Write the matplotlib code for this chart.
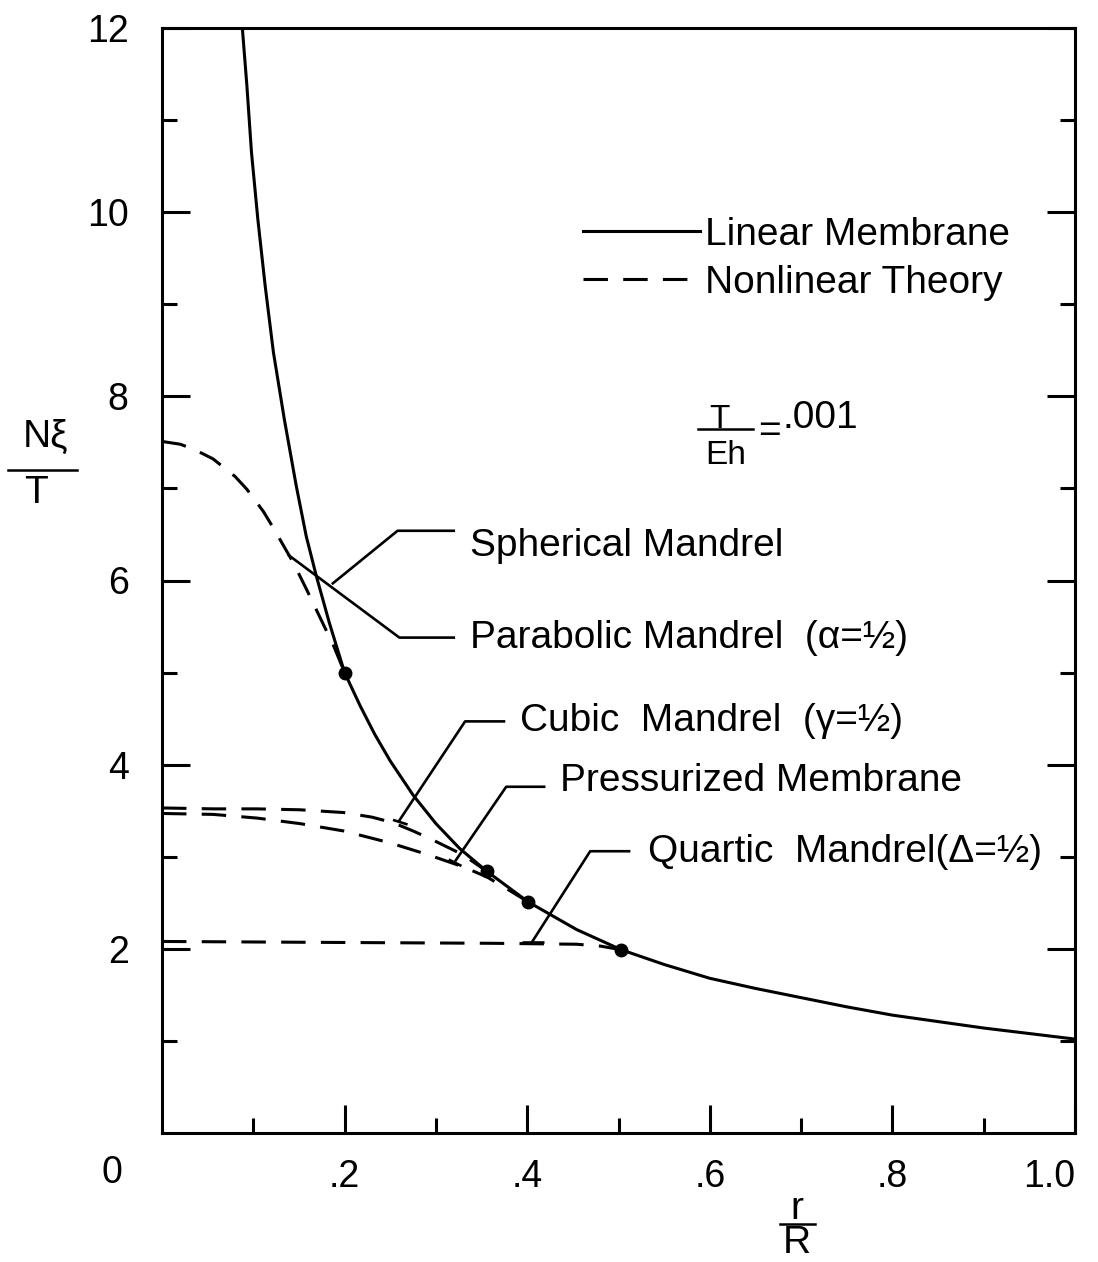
import matplotlib
matplotlib.use("Agg")
import matplotlib.pyplot as plt
from matplotlib.lines import Line2D
from matplotlib.ticker import FixedLocator

plt.rcParams["font.family"] = ["Liberation Sans", "DejaVu Sans"]

# --- values ------------------------------------------------------------------
# linear membrane (solid)
lin_x = [0.088, 0.093, 0.098, 0.105, 0.113, 0.122, 0.134, 0.147, 0.158, 0.169,
         0.183, 0.200, 0.217, 0.233, 0.250, 0.275, 0.300, 0.326, 0.356, 0.401,
         0.454, 0.503, 0.550, 0.600, 0.650, 0.700, 0.750, 0.800, 0.850, 0.900,
         0.950, 1.000]
lin_y = [12.0, 11.37, 10.65, 9.92, 9.20, 8.48, 7.75, 7.03, 6.48, 6.05,
         5.55, 5.00, 4.64, 4.33, 4.04, 3.67, 3.36, 3.09, 2.84, 2.51,
         2.21, 1.99, 1.83, 1.68, 1.57, 1.47, 1.37, 1.28, 1.21, 1.14,
         1.08, 1.02]

# nonlinear theory (dashed)
par_x = [0.0, 0.020, 0.036, 0.056, 0.080, 0.093, 0.111, 0.122, 0.133, 0.144,
         0.158, 0.173, 0.188, 0.200]
par_y = [7.51, 7.48, 7.42, 7.32, 7.13, 6.99, 6.75, 6.57, 6.38, 6.19,
         5.91, 5.60, 5.29, 5.00]

cub_x = [0.0, 0.056, 0.104, 0.151, 0.199, 0.230, 0.253, 0.275, 0.295, 0.330, 0.356]
cub_y = [3.53, 3.52, 3.52, 3.51, 3.48, 3.43, 3.37, 3.28, 3.19, 3.02, 2.84]

prs_x = [0.0, 0.056, 0.104, 0.151, 0.199, 0.250, 0.292, 0.330, 0.356, 0.378, 0.401]
prs_y = [3.47, 3.46, 3.42, 3.36, 3.28, 3.15, 3.02, 2.89, 2.78, 2.65, 2.51]

qrt_x = [0.0, 0.180, 0.363, 0.454, 0.480, 0.503]
qrt_y = [2.08, 2.07, 2.06, 2.05, 2.03, 1.99]

# joining points
dot_x = [0.200, 0.356, 0.401, 0.503]
dot_y = [5.00, 2.84, 2.51, 1.99]

x_ticks = [0.2, 0.4, 0.6, 0.8, 1.0]
x_ticklabels = [".2", ".4", ".6", ".8", "1.0"]
y_ticks = [2, 4, 6, 8, 10, 12]
y_ticklabels = ["2", "4", "6", "8", "10", "12"]

LW = 2.2
DASH = (0, (8, 5))
TXT = 28


def leader(ax, xs, ys):
    ax.plot(xs, ys, color="black", lw=1.9, solid_capstyle="butt", clip_on=False)


fig = plt.figure(figsize=(10.98, 12.62), dpi=100)
ax = fig.add_axes([162 / 1098, 1 - 1133 / 1262, 913 / 1098, 1105 / 1262])

ax.plot(lin_x, lin_y, color="black", lw=LW, label="Linear Membrane")
ax.plot(par_x, par_y, color="black", lw=LW, ls=DASH, label="Nonlinear Theory")
ax.plot(cub_x, cub_y, color="black", lw=LW, ls=DASH)
ax.plot(prs_x, prs_y, color="black", lw=LW, ls=DASH)
ax.plot(qrt_x, qrt_y, color="black", lw=LW, ls=DASH)
ax.plot(dot_x, dot_y, "o", color="black", ms=9)

ax.set_xlim(0, 1.0)
ax.set_ylim(0, 12)

for s in ax.spines.values():
    s.set_linewidth(LW)

ax.xaxis.set_major_locator(FixedLocator(x_ticks))
ax.xaxis.set_minor_locator(FixedLocator([0.1, 0.3, 0.5, 0.7, 0.9]))
ax.set_xticklabels(x_ticklabels)
ax.get_xticklabels()[-1].set_horizontalalignment("right")
ax.yaxis.set_major_locator(FixedLocator(y_ticks))
ax.yaxis.set_minor_locator(FixedLocator([1, 3, 5, 7, 9, 11]))
ax.set_yticklabels(y_ticklabels)
ax.tick_params(which="both", direction="in", width=LW, left=True, right=True,
               bottom=True, top=False)
ax.tick_params(which="major", length=20, labelsize=27)
ax.tick_params(which="minor", length=11)
ax.tick_params(axis="y", which="major", pad=24)
ax.tick_params(axis="x", which="major", pad=19)

# origin label sits below-left of the corner
ax.text(-0.055, -0.43, "0", fontsize=27, ha="center", va="center")

# axis titles drawn as stacked fractions
fig.text(23 / 1098, 1 - 447 / 1262, "Nξ", fontsize=TXT, ha="left", va="baseline")
fig.add_artist(Line2D([8 / 1098, 77 / 1098], [1 - 470 / 1262] * 2,
                      color="black", lw=1.8))
fig.text(36 / 1098, 1 - 503 / 1262, "T", fontsize=TXT, ha="center", va="baseline")

fig.text(797 / 1098, 1 - 1219 / 1262, "r", fontsize=TXT, ha="center", va="baseline")
fig.add_artist(Line2D([780 / 1098, 815 / 1098], [1 - 1224 / 1262] * 2,
                      color="black", lw=1.8))
fig.text(797 / 1098, 1 - 1253 / 1262, "R", fontsize=TXT, ha="center", va="baseline")

# legend
ax.legend(loc="upper left", bbox_to_anchor=(0.461, 0.829), frameon=False,
          fontsize=TXT, handlelength=3.0, handletextpad=0.13, labelspacing=0.3,
          borderpad=0, borderaxespad=0)

# T/Eh = .001
ax.text(0.611, 7.66, "T", fontsize=24, ha="center", va="baseline")
ax.plot([0.587, 0.647], [7.64, 7.64], color="black", lw=1.8)
ax.text(0.617, 7.27, "Eh", fontsize=24, ha="center", va="baseline")
ax.text(0.665, 7.50, "=", fontsize=TXT, ha="center", va="baseline")
ax.text(0.680, 7.66, ".001", fontsize=TXT, ha="left", va="baseline")

# curve labels with leader lines
ax.text(0.337, 6.38, "Spherical Mandrel", fontsize=TXT, ha="left", va="center")
leader(ax, [0.186, 0.258, 0.321], [5.96, 6.54, 6.54])

ax.text(0.337, 5.38, "Parabolic Mandrel  (α=½)", fontsize=TXT, ha="left", va="center")
leader(ax, [0.138, 0.260, 0.321], [6.28, 5.38, 5.38])

ax.text(0.392, 4.47, "Cubic  Mandrel  (γ=½)", fontsize=TXT, ha="left", va="center")
leader(ax, [0.259, 0.332, 0.376], [3.38, 4.47, 4.47])
leader(ax, [0.253, 0.269], [3.40, 3.35])

ax.text(0.436, 3.82, "Pressurized Membrane", fontsize=TXT, ha="left", va="center")
leader(ax, [0.321, 0.377, 0.420], [2.95, 3.76, 3.76])
leader(ax, [0.314, 0.328], [2.97, 2.90])

ax.text(0.532, 3.05, "Quartic  Mandrel(Δ=½)", fontsize=TXT, ha="left", va="center")
leader(ax, [0.405, 0.469, 0.513], [2.07, 3.06, 3.06])
leader(ax, [0.394, 0.418], [2.07, 2.07])

fig.savefig("out.png", dpi=100)
